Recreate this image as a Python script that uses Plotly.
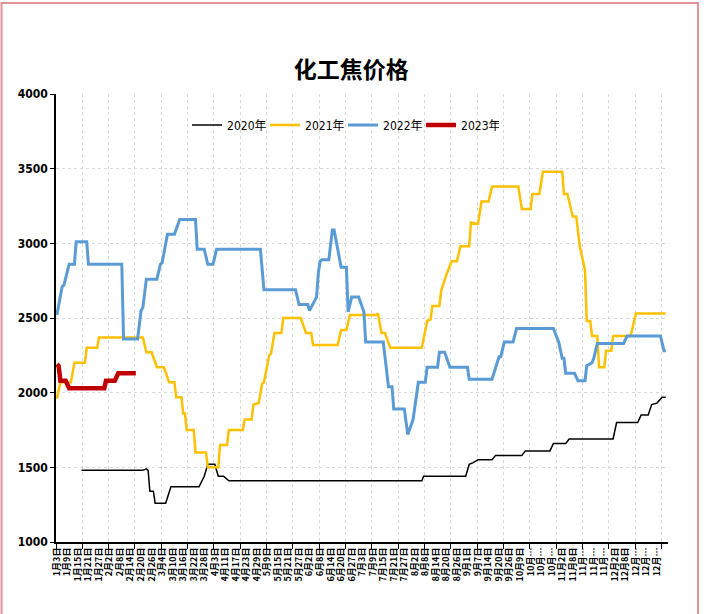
import plotly.graph_objects as go

# x = trading-day index of the year (0 = 1月3日), y = price
days_2020 = [14, 49, 51, 52, 53, 55, 56, 62, 65, 81, 84, 86, 90, 92, 95, 98, 208, 209, 233, 235, 237, 240, 248, 250,
             265, 267, 281, 283, 290, 292, 317, 319, 331, 333, 337, 339, 342, 345, 347]
price_2020 = [1480, 1480, 1490, 1480, 1340, 1340, 1260, 1260, 1370, 1370, 1440, 1520, 1520, 1440, 1440, 1410, 1410,
              1440, 1440, 1520, 1530, 1550, 1550, 1580, 1580, 1610, 1610, 1660, 1660, 1690, 1690, 1800, 1800, 1850,
              1850, 1920, 1930, 1970, 1970]

days_2021 = [0, 2, 8, 10, 16, 17, 23, 24, 49, 51, 54, 57, 61, 64, 67, 68, 71, 72, 73, 74, 78, 79, 85, 86, 92, 93, 97,
             98, 106, 107, 111, 112, 115, 117, 118, 121, 122, 124, 128, 129, 139, 142, 145, 146, 160, 162, 165, 167,
             182, 183, 185, 187, 190, 208, 211, 213, 214, 218, 219, 222, 225, 228, 230, 235, 236, 240, 242, 246, 248,
             263, 265, 270, 271, 275, 277, 288, 289, 291, 294, 296, 298, 301, 302, 304, 305, 308, 309, 312, 313, 316,
             317, 327, 328, 330, 347]
price_2021 = [1960, 2070, 2070, 2200, 2200, 2300, 2300, 2370, 2370, 2270, 2270, 2170, 2170, 2070, 2070, 1970, 1970,
              1860, 1860, 1750, 1750, 1600, 1600, 1500, 1500, 1650, 1650, 1750, 1750, 1820, 1820, 1920, 1930, 2060,
              2070, 2250, 2260, 2400, 2400, 2500, 2500, 2400, 2400, 2320, 2320, 2420, 2420, 2520, 2520, 2530, 2400,
              2400, 2300, 2300, 2480, 2490, 2580, 2580, 2680, 2790, 2880, 2880, 2980, 2980, 3140, 3130, 3280, 3280,
              3380, 3380, 3230, 3230, 3330, 3330, 3480, 3480, 3330, 3330, 3180, 3180, 2980, 2820, 2480, 2480, 2380,
              2380, 2170, 2170, 2280, 2280, 2380, 2380, 2430, 2530, 2530]

days_2022 = [0, 3, 4, 7, 10, 11, 17, 18, 37, 38, 46, 48, 49, 51, 57, 59, 60, 63, 67, 70, 79, 80, 84, 86, 89, 91, 116,
             118, 136, 138, 143, 144, 148, 149, 150, 151, 155, 157, 158, 162, 165, 166, 168, 172, 175, 176, 186, 189,
             191, 192, 198, 200, 203, 204, 206, 210, 211, 217, 218, 221, 224, 234, 235, 248, 252, 253, 255, 260, 262,
             283, 286, 288, 289, 290, 295, 297, 301, 302, 305, 306, 308, 323, 325, 344, 346, 347]
price_2022 = [2520, 2710, 2720, 2860, 2860, 3010, 3010, 2860, 2860, 2360, 2360, 2550, 2570, 2760, 2760, 2860, 2870,
              3060, 3060, 3160, 3160, 2960, 2960, 2860, 2860, 2960, 2960, 2690, 2690, 2590, 2590, 2550, 2640, 2800,
              2880, 2890, 2890, 3090, 3090, 2840, 2840, 2540, 2640, 2640, 2540, 2340, 2340, 2040, 2040, 1890, 1890,
              1720, 1820, 1910, 2070, 2070, 2170, 2170, 2270, 2270, 2170, 2170, 2090, 2090, 2240, 2240, 2340, 2340,
              2430, 2430, 2340, 2230, 2230, 2130, 2130, 2080, 2080, 2180, 2200, 2230, 2330, 2330, 2380, 2380, 2280,
              2280]

days_2023 = [0, 1, 2, 5, 7, 27, 28, 33, 35, 45]
price_2023 = [2190, 2180, 2080, 2080, 2030, 2030, 2080, 2080, 2130, 2130]

date_labels = ["1月3日", "1月9日", "1月15日", "1月21日", "1月27日", "2月2日", "2月8日", "2月14日", "2月20日", "2月26日",
               "3月4日", "3月10日", "3月16日", "3月22日", "3月28日", "4月3日", "4月11日", "4月17日", "4月23日", "4月29日",
               "5月9日", "5月15日", "5月21日", "5月27日", "6月2日", "6月8日", "6月14日", "6月20日", "6月27日", "7月3日",
               "7月9日", "7月15日", "7月21日", "7月27日", "8月2日", "8月8日", "8月14日", "8月20日", "8月26日", "9月1日",
               "9月7日", "9月14日", "9月20日", "9月26日", "10月9日", "10月…", "10月…", "10月…", "11月2日", "11月8日",
               "11月…", "11月…", "11月…", "12月2日", "12月8日", "12月…", "12月…", "12月…"]

series = [
    ("2020年", days_2020, price_2020, "#000000", 1.5),
    ("2021年", days_2021, price_2021, "#FFC000", 2.5),
    ("2022年", days_2022, price_2022, "#5B9BD5", 3),
    ("2023年", days_2023, price_2023, "#C00000", 4.5),
]

fig = go.Figure()
for name, xs, ys, color, width in series:
    fig.add_trace(go.Scatter(x=xs, y=ys, mode="lines", name=name,
                             line=dict(color=color, width=width)))

num_font = "DejaVu Sans Condensed, Liberation Sans Narrow, Noto Sans CJK SC, sans-serif"

fig.update_layout(
    width=704,
    height=614,
    margin=dict(l=56, r=36, t=94, b=72),
    paper_bgcolor="white",
    plot_bgcolor="white",
    title=dict(text="<b>化工焦价格</b>", x=0.499, xanchor="center", y=0.886, yanchor="middle",
               font=dict(family="Noto Sans CJK SC", size=23, color="black")),
    legend=dict(orientation="h", x=0.469, xanchor="center", y=0.931, yanchor="middle",
                font=dict(family=num_font, size=12, color="black"),
                bgcolor="rgba(0,0,0,0)", itemwidth=30,
                entrywidth=33, entrywidthmode="pixels"),
    showlegend=True,
)

fig.update_xaxes(
    range=[-0.5, 348.3],
    automargin=False,
    tickmode="array",
    tickvals=[6 * i for i in range(len(date_labels))],
    ticktext=["<b>%s</b>" % t for t in date_labels],
    tickangle=-90,
    tickfont=dict(family="Noto Sans CJK SC", size=9, color="black"),
    ticks="",
    showgrid=False,
    showline=True, linecolor="black", linewidth=2,
    minor=dict(tickvals=[-0.5 + 15 * k for k in range(24)], ticks="outside", ticklen=5,
               tickcolor="black", tickwidth=1, showgrid=True, gridcolor="#D9D9D9",
               griddash="dot", gridwidth=1),
    zeroline=False,
)

fig.update_yaxes(
    range=[1000, 4000],
    automargin=False,
    dtick=500,
    tickformat="d",
    ticks="outside", ticklen=4, tickcolor="black",
    tickfont=dict(family=num_font, size=12, color="black"),
    showline=True, linecolor="black", linewidth=1.5,
    showgrid=True, gridcolor="#D9D9D9", griddash="dot", gridwidth=1,
    zeroline=False,
    tickprefix="<b>", ticksuffix="</b>",
)

# pink frame around the whole chart
fig.add_shape(type="rect", xref="paper", yref="paper",
              x0=(1.5 - 56) / 612, x1=(698 - 56) / 612,
              y0=(542 - 630) / 448, y1=(542 - 3) / 448,
              line=dict(color="#E39494", width=2), layer="below")

# drop the browser's default page margin so the figure sits at the window origin
fig.write_html("out.html", config={"displayModeBar": False},
               post_script="document.body.style.margin='0';")
